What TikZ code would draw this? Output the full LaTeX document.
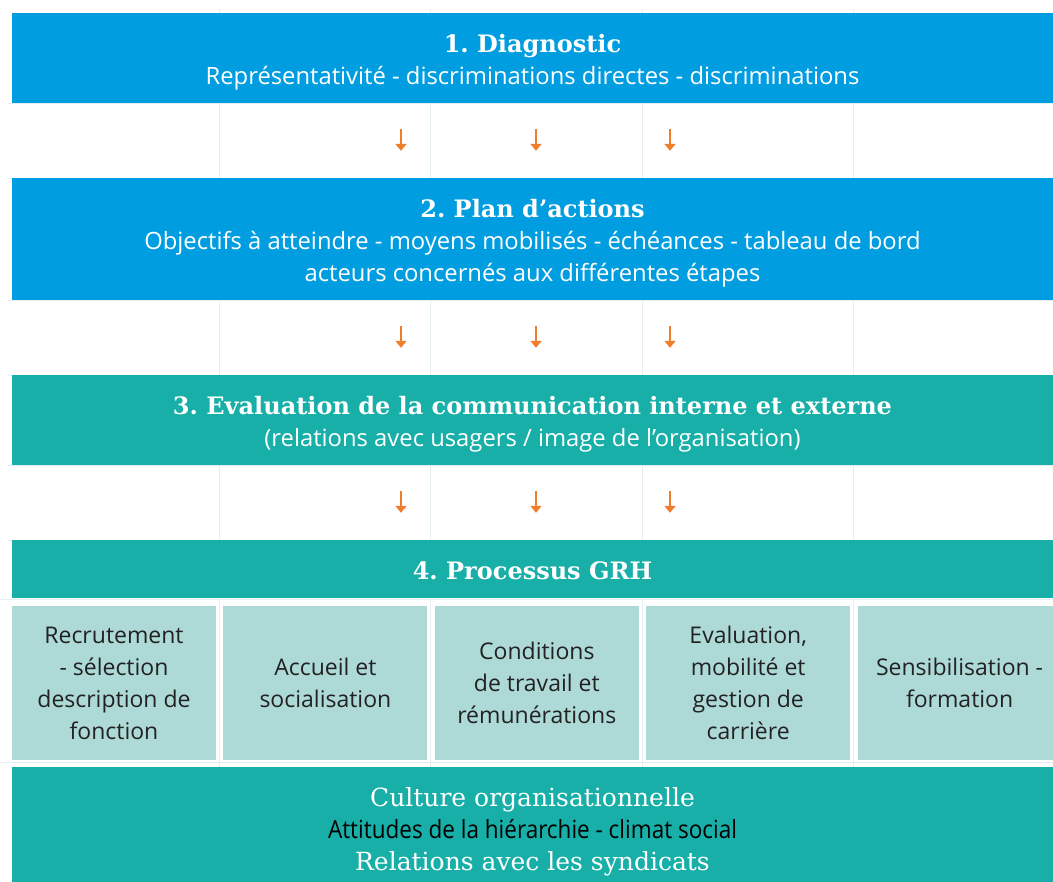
\documentclass[tikz,border=0pt]{standalone}
\usepackage{fontspec}
\setmainfont{Open Sans}
\newfontfamily\slabfont{DejaVu Serif}
\newfontfamily\condfont[FakeStretch=0.9]{Open Sans}
\usetikzlibrary{arrows.meta,positioning}
\definecolor{diagblue}{HTML}{009EE0}
\definecolor{grhteal}{HTML}{17AFA8}
\definecolor{paleteal}{HTML}{ADD9D7}
\definecolor{arrorange}{HTML}{EF7D2B}
\definecolor{gridgray}{HTML}{E4EEF3}
\definecolor{cellink}{HTML}{222222}
\newcommand{\bandtitle}[2][27pt]{{\rule{0pt}{#1}\slabfont\bfseries\fontsize{24}{32}\selectfont #2}}
\frenchspacing
\begin{document}
\begin{tikzpicture}[x=1pt, y=-1pt,
    band/.style={rectangle, fill=#1, text=white, minimum width=1041pt, inner sep=0pt,
        align=center, font=\fontsize{23.8}{32}\selectfont},
    cell/.style={rectangle, fill=paleteal, text=cellink, minimum width=204pt, minimum height=154pt,
        inner sep=0pt, align=center, font=\fontsize{23}{32}\selectfont},
    flow/.style={draw=arrorange, line width=2.5pt, -{Triangle[width=11pt,length=7pt]},
        shorten <=26pt, shorten >=27pt},
    grid/.style={draw=gridgray, line width=0.6pt}]
    \clip (0,0) rectangle (1053,882);
    \fill[white] (0,0) rectangle (1053,882);
    % faint table grid behind the bands
    \draw[grid] (219,9) -- (219,882);
    \draw[grid] (430,9) -- (430,882);
    \draw[grid] (642,9) -- (642,882);
    \draw[grid] (853,9) -- (853,882);
    \draw[grid] (8,103) -- (1053,103);
    \draw[grid] (8,178) -- (1053,178);
    \draw[grid] (8,300) -- (1053,300);
    \draw[grid] (8,375) -- (1053,375);
    \draw[grid] (8,465) -- (1053,465);
    \draw[grid] (8,540) -- (1053,540);
    \draw[grid] (0,599) -- (1053,599);
    \draw[grid] (0,762) -- (1053,762);

    \node[band=diagblue, minimum height=90pt] (diag) at (532.5,58)
        {\bandtitle{1. Diagnostic}\\
         Représentativité - discriminations directes - discriminations};
    \node[band=diagblue, minimum height=122pt] (plan) at (532.5,239)
        {\bandtitle{2. Plan d’actions}\\
         Objectifs à atteindre - moyens mobilisés - échéances - tableau de bord\\
         acteurs concernés aux différentes étapes};
    \node[band=grhteal, minimum height=90pt] (evalcom) at (532.5,420)
        {\bandtitle{3. Evaluation de la communication interne et externe}\\
         (relations avec usagers / image de l’organisation)};
    \node[band=grhteal, minimum height=58pt] (grh) at (532.5,569)
        {\bandtitle[21.5pt]{4. Processus GRH}};

    \node[cell] (recrut) at (114,683) {Recrutement\\- sélection\\description de\\fonction};
    \node[cell, right=7pt of recrut] (accueil) {Accueil et\\socialisation};
    \node[cell, right=7pt of accueil] (conditions) {Conditions\\de travail et\\rémunérations};
    \node[cell, right=7pt of conditions] (carriere) {Evaluation,\\mobilité et\\gestion de\\carrière};
    \node[cell, right=7pt of carriere] (formation) {Sensibilisation -\\formation};

    \node[band=grhteal, minimum height=130pt, font=\fontsize{25}{32}\selectfont] (culture) at (532.5,832)
        {{\slabfont Culture organisationnelle}\\
         {\condfont\color{black} Attitudes de la hiérarchie - climat social}\\
         {\slabfont Relations avec les syndicats}};

    \draw[flow] ([xshift=-131.5pt]diag.south) -- ([xshift=-131.5pt]plan.north);
    \draw[flow] ([xshift=3.5pt]diag.south) -- ([xshift=3.5pt]plan.north);
    \draw[flow] ([xshift=137.5pt]diag.south) -- ([xshift=137.5pt]plan.north);
    \draw[flow] ([xshift=-131.5pt]plan.south) -- ([xshift=-131.5pt]evalcom.north);
    \draw[flow] ([xshift=3.5pt]plan.south) -- ([xshift=3.5pt]evalcom.north);
    \draw[flow] ([xshift=137.5pt]plan.south) -- ([xshift=137.5pt]evalcom.north);
    \draw[flow] ([xshift=-131.5pt]evalcom.south) -- ([xshift=-131.5pt]grh.north);
    \draw[flow] ([xshift=3.5pt]evalcom.south) -- ([xshift=3.5pt]grh.north);
    \draw[flow] ([xshift=137.5pt]evalcom.south) -- ([xshift=137.5pt]grh.north);
\end{tikzpicture}
\end{document}
